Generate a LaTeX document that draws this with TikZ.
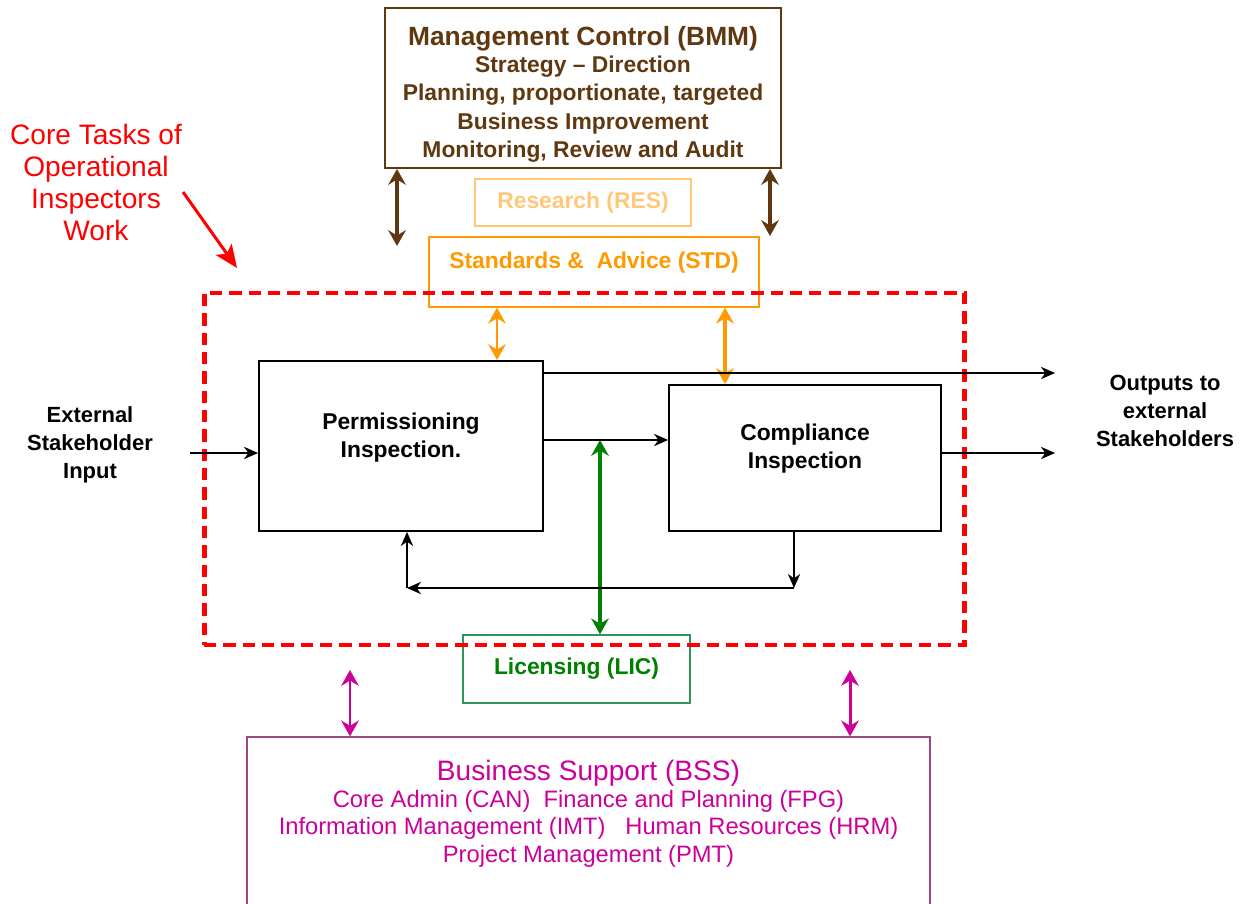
\documentclass[tikz,border=0pt]{standalone}
\usepackage{fontspec}
\setmainfont{Liberation Sans}
\usetikzlibrary{arrows.meta}

\definecolor{bmmbrown}{RGB}{96,56,16}
\definecolor{resorange}{RGB}{255,200,120}
\definecolor{stdorange}{RGB}{255,153,0}
\definecolor{licgreen}{RGB}{0,128,0}
\definecolor{licline}{RGB}{46,150,90}
\definecolor{bssmagenta}{RGB}{204,0,153}
\definecolor{bssline}{RGB}{160,70,130}

\tikzset{
  box/.style={draw, line width=1.1pt, inner sep=0pt, align=center,
    font=\fontsize{13}{16}\selectfont\bfseries},
  label text/.style={align=center, inner sep=1pt,
    font=\fontsize{12.5}{16}\selectfont\bfseries},
  link/.style={-{Stealth[length=8pt,width=7pt,inset=2.5pt]}, line width=0.9pt},
  twoway/.style={{Stealth[length=9pt,width=10pt,inset=3pt]}-{Stealth[length=9pt,width=10pt,inset=3pt]},
    line width=2pt},
  zone/.style={draw=red, line width=2.8pt, dash pattern=on 7pt off 4pt,
    inner sep=0pt},
}

\begin{document}
\begin{tikzpicture}[x=0.02cm, y=-0.02cm]
  \useasboundingbox (0,0) rectangle (1241,903);

  % units around the core work
  \node[box, draw=bmmbrown, text=bmmbrown, minimum width=7.92cm, minimum height=3.2cm]
    (bmm) at (583,88)
    {{\fontsize{15}{18}\selectfont\rule{0pt}{18pt}Management Control (BMM)}\\[-0.5pt]
     Strategy -- Direction\\
     Planning, proportionate, targeted\\
     Business Improvement\\
     Monitoring, Review and Audit};
  \node[box, draw=resorange, text=resorange, line width=0.8pt,
    minimum width=4.32cm, minimum height=0.94cm] (res) at (583,202.5) {Research (RES)};
  \node[box, draw=stdorange, text=stdorange, line width=0.8pt, text depth=13pt,
    minimum width=6.6cm, minimum height=1.4cm] (std) at (594,272) {Standards \&\ \ Advice (STD)};
  \node[box, draw=licline, text=licgreen, line width=0.8pt,
    minimum width=4.54cm, minimum height=1.36cm] (lic) at (576.5,669) {Licensing (LIC)};
  \node[box, draw=bssline, text=bssmagenta, line width=0.8pt, text depth=17pt,
    font=\fontsize{13.5}{15.5}\selectfont, minimum width=13.66cm, minimum height=3.56cm]
    (bss) at (588.5,826)
    {{\fontsize{16}{18}\selectfont Business Support (BSS)}\\
     Core Admin (CAN)\ \ Finance and Planning (FPG)\\
     Information Management (IMT)\ \ \ Human Resources (HRM)\\
     Project Management (PMT)};

  % core tasks
  \node[box, minimum width=5.68cm, minimum height=3.4cm, text depth=12.5pt]
    (perm) at (401,446) {Permissioning\\ Inspection.};
  \node[box, minimum width=5.44cm, minimum height=2.92cm, text depth=13pt]
    (comp) at (805,458) {Compliance\\ Inspection};
  \node[zone, minimum width=15.22cm, minimum height=7.04cm] (work) at (584.5,469) {};

  \node[label text, text=red, font=\fontsize{16}{18.2}\selectfont] (core) at (96,182)
    {Core Tasks of\\ Operational\\ Inspectors\\ Work};
  \node[label text] (input) at (90,445) {External\\ Stakeholder\\ Input};
  \node[label text] (output) at (1165,411) {Outputs to\\ external\\ Stakeholders};

  \coordinate (ct) at (237,268);
  \coordinate (bmmL) at (397,246);
  \coordinate (bmmR) at (770,236);
  \coordinate (stdL) at (497,0);
  \coordinate (stdR) at (725,0);
  \coordinate (licA) at (600,440);
  \coordinate (bssL) at (350,670);
  \coordinate (bssR) at (850,670);
  \coordinate (in) at (190,453);
  \coordinate (out1) at (1055,373);
  \coordinate (out2) at (1055,453);
  \coordinate (pc) at (600,440);
  \coordinate (fbR) at (794,588);
  \coordinate (fbL) at (407,588);

  \draw[red, line width=1.7pt, -{Stealth[length=13pt,width=11pt,inset=3pt]}] (183,192) -- (ct);
  \draw[twoway, bmmbrown, line width=2.2pt] (bmmL |- bmm.south) -- (bmmL);
  \draw[twoway, bmmbrown, line width=2.2pt] (bmmR |- bmm.south) -- (bmmR);
  \draw[twoway, stdorange, line width=1.7pt] (stdL |- std.south) -- (stdL |- perm.north);
  \draw[twoway, stdorange, line width=2.3pt] (stdR |- std.south) -- (stdR |- comp.north);
  \draw[twoway, licgreen, line width=2.1pt] (licA) -- (licA |- lic.north);
  \draw[twoway, bssmagenta, line width=1.7pt] (bssL) -- (bssL |- bss.north);
  \draw[twoway, bssmagenta, line width=1.7pt] (bssR) -- (bssR |- bss.north);

  \draw[link] (in) -- (in -| perm.west);
  \draw[link] (out1 -| perm.east) -- (out1);
  \draw[link] (pc -| perm.east) -- (pc -| comp.west);
  \draw[link] (out2 -| comp.east) -- (out2);
  \draw[link] (fbR |- comp.south) -- (fbR);
  \draw[link] (fbR) -- (fbL);
  \draw[link] (fbL) -- (fbL |- perm.south);
\end{tikzpicture}
\end{document}
